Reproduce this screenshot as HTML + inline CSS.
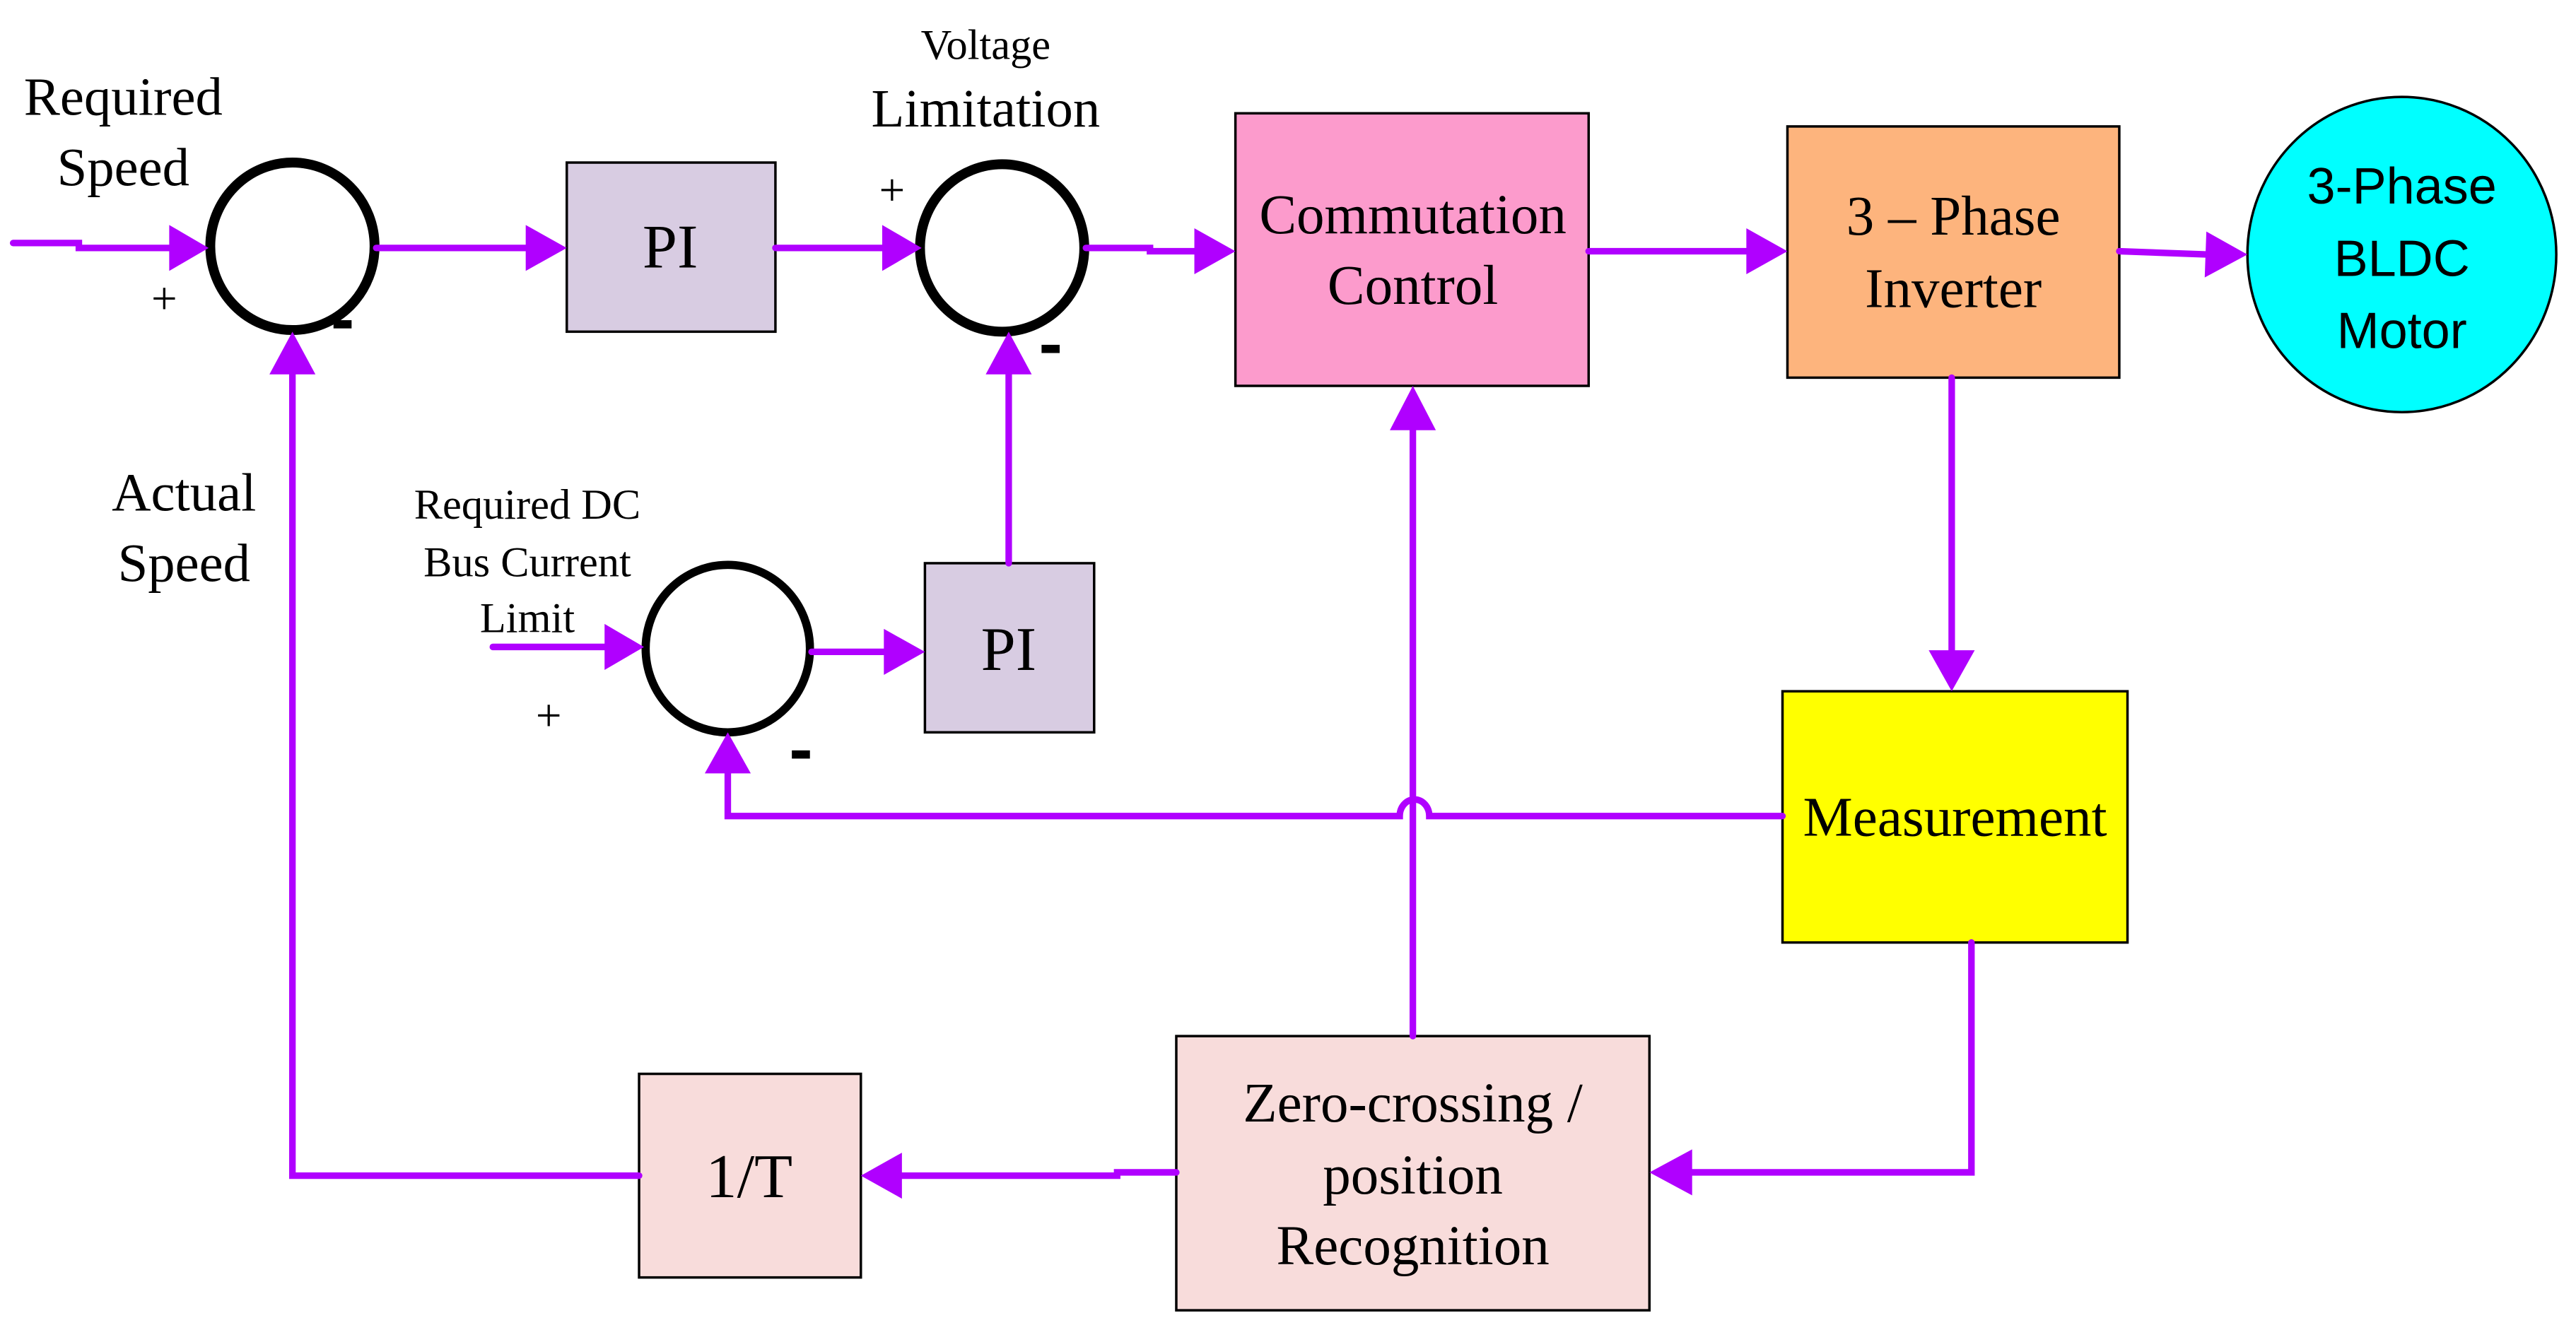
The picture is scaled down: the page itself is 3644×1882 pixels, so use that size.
<!DOCTYPE html>
<html><head><meta charset="utf-8"><style>
html,body{margin:0;padding:0;background:#fff;}
svg{display:block;}
text{font-family:"Liberation Serif",serif;fill:#000;}
</style></head><body>
<svg width="3644" height="1882" viewBox="0 0 1568 810" preserveAspectRatio="none" xmlns="http://www.w3.org/2000/svg">
<rect x="345" y="99" width="127" height="103" fill="#d8cce2" stroke="#000" stroke-width="1.5"/>
<rect x="752" y="69" width="215" height="166" fill="#fc9bcc" stroke="#000" stroke-width="1.5"/>
<rect x="1088" y="77" width="202" height="153" fill="#fdb47d" stroke="#000" stroke-width="1.5"/>
<ellipse cx="1462" cy="155" rx="94" ry="96" fill="#00ffff" stroke="#000" stroke-width="1.5"/>
<rect x="563" y="343" width="103" height="103" fill="#d8cce2" stroke="#000" stroke-width="1.5"/>
<rect x="1085" y="421" width="210" height="153" fill="#ffff00" stroke="#000" stroke-width="1.5"/>
<rect x="716" y="631" width="288" height="167" fill="#f8dcdb" stroke="#000" stroke-width="1.5"/>
<rect x="389" y="654" width="135" height="124" fill="#f8dcdb" stroke="#000" stroke-width="1.5"/>
<ellipse cx="178" cy="150" rx="50" ry="51" fill="#fff" stroke="#000" stroke-width="6"/>
<ellipse cx="610" cy="151" rx="50" ry="51" fill="#fff" stroke="#000" stroke-width="6"/>
<ellipse cx="443" cy="395" rx="50" ry="51" fill="#fff" stroke="#000" stroke-width="5"/>
<g stroke="#b000ff" stroke-width="4" fill="none" stroke-linecap="round">
<path d="M8 148 H48 V151 H105"/>
<path d="M229 151 H322"/>
<path d="M472 151 H537"/>
<path d="M661 151 H700 V153 H728"/>
<path d="M967 153 H1065"/>
<path d="M1290 153 L1344 155"/>
<path d="M1188 230 V398"/>
<path d="M1085 497 H870 A8 9 0 0 0 852 497 H443 V470"/>
<path d="M1200 574 V714 H1030"/>
<path d="M860 631 V260"/>
<path d="M716 714 H680 V716 H548"/>
<path d="M389 716 H178 V226"/>
<path d="M300 394 H370"/>
<path d="M494 397 H540"/>
<path d="M614 343 V226"/>
</g>
<g fill="#b000ff">
<polygon points="127,151 103,137 103,165"/>
<polygon points="345,151 320,137 320,165"/>
<polygon points="561,151 537,137 537,165"/>
<polygon points="752,153 727,139 727,167"/>
<polygon points="1088,153 1063,139 1063,167"/>
<polygon points="1368,155 1343,141 1342,169"/>
<polygon points="1188,421 1174,396 1202,396"/>
<polygon points="443,446 429,471 457,471"/>
<polygon points="1004,714 1030,700 1030,728"/>
<polygon points="860,235 846,262 874,262"/>
<polygon points="524,716 549,702 549,730"/>
<polygon points="178,202 164,228 192,228"/>
<polygon points="392,394 368,380 368,408"/>
<polygon points="563,397 538,383 538,411"/>
<polygon points="614,202 600,228 628,228"/>
</g>
<g font-size="33" text-anchor="middle">
<text x="75" y="70">Required</text>
<text x="75" y="113">Speed</text>
<text x="112" y="311">Actual</text>
<text x="112" y="354">Speed</text>
<text x="600" y="77">Limitation</text>
<text x="600" y="36" font-size="26">Voltage</text>
<text x="321" y="316" font-size="26">Required DC</text>
<text x="321" y="351" font-size="26">Bus Current</text>
<text x="321" y="385" font-size="26">Limit</text>
<text x="100" y="191" font-size="28">+</text>
<text x="543" y="125" font-size="28">+</text>
<text x="334" y="445" font-size="28">+</text>
<text x="408" y="163" font-size="38">PI</text>
<text x="614" y="408" font-size="38">PI</text>
<text x="860" y="142" font-size="34">Commutation</text>
<text x="860" y="185" font-size="34">Control</text>
<text x="1189" y="143" font-size="34">3 – Phase</text>
<text x="1189" y="187" font-size="34">Inverter</text>
<text x="1190" y="509" font-size="34">Measurement</text>
<text x="860" y="683" font-size="34">Zero-crossing  /</text>
<text x="860" y="727" font-size="34">position</text>
<text x="860" y="770" font-size="34">Recognition</text>
<text x="456" y="729" font-size="38">1/T</text>
</g>
<g font-size="31" text-anchor="middle">
<text x="1462" y="124" style="font-family:'Liberation Sans',sans-serif">3-Phase</text>
<text x="1462" y="168" style="font-family:'Liberation Sans',sans-serif">BLDC</text>
<text x="1462" y="212" style="font-family:'Liberation Sans',sans-serif">Motor</text>
</g>
<g fill="#000">
<rect x="203" y="195" width="11" height="5"/>
<rect x="634" y="210" width="11" height="5"/>
<rect x="482" y="457" width="11" height="5"/>
</g>
</svg>
</body></html>
